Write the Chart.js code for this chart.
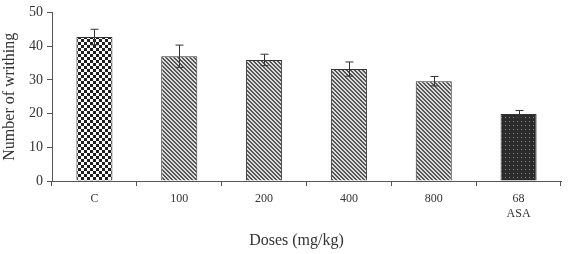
<!DOCTYPE html>
<html>
<head>
<meta charset="utf-8">
<script src="https://cdn.jsdelivr.net/npm/chart.js@4"></script>
<style>
  html, body { margin: 0; padding: 0; background: #fff; }
  #wrap { width: 568px; height: 254px; }
</style>
</head>
<body>
<div id="wrap"><canvas id="chart"></canvas></div>
<script>
const categories = ['C', '100', '200', '400', '800', ['68', 'ASA']];
const writhing = [42.7, 37.0, 35.9, 33.2, 29.6, 19.9];
const errors = [2.3, 3.3, 1.7, 2.1, 1.4, 1.0];
const yTicks = [0, 10, 20, 30, 40, 50];

function makePattern(kind) {
    const c = document.createElement('canvas');
    const ctx = c.getContext('2d');
    if (kind === 'checker') {
        c.width = 6; c.height = 6;
        ctx.fillStyle = '#fff';
        ctx.fillRect(0, 0, 6, 6);
        ctx.fillStyle = '#1e1e1e';
        ctx.fillRect(0, 0, 3, 3);
        ctx.fillRect(3, 3, 3, 3);
    } else if (kind === 'hatch') {
        c.width = 4; c.height = 4;
        ctx.fillStyle = '#dcdcdc';
        ctx.fillRect(0, 0, 4, 4);
        ctx.fillStyle = '#555';
        for (let i = 0; i < 4; i++) {
            ctx.fillRect(i, i, 1, 1);
            ctx.fillRect((i + 1) % 4, i, 1, 1);
        }
    } else {
        c.width = 4; c.height = 4;
        ctx.fillStyle = '#2b2b2b';
        ctx.fillRect(0, 0, 4, 4);
        ctx.fillStyle = '#8a8a8a';
        ctx.fillRect(1, 1, 1, 1);
    }
    return document.getElementById('chart').getContext('2d').createPattern(c, 'repeat');
}

const fills = [
    makePattern('checker'),
    makePattern('hatch'), makePattern('hatch'), makePattern('hatch'), makePattern('hatch'),
    makePattern('dots')
];

const errorBars = {
    id: 'errorBars',
    afterDatasetsDraw(chart) {
        const ctx = chart.ctx;
        const y = chart.scales.y;
        const meta = chart.getDatasetMeta(0);
        ctx.save();
        ctx.strokeStyle = '#333';
        ctx.lineWidth = 1;
        meta.data.forEach((bar, i) => {
            const x = Math.round(bar.x) + 0.5;
            const top = y.getPixelForValue(writhing[i] + errors[i]);
            const bot = y.getPixelForValue(writhing[i] - errors[i]);
            ctx.beginPath();
            ctx.moveTo(x, top); ctx.lineTo(x, bot);
            ctx.moveTo(x - 4, top); ctx.lineTo(x + 4, top);
            ctx.moveTo(x - 4, bot); ctx.lineTo(x + 4, bot);
            ctx.stroke();
        });
        ctx.restore();
    }
};

new Chart(document.getElementById('chart'), {
    type: 'bar',
    data: {
        labels: categories,
        datasets: [{
            data: writhing,
            backgroundColor: fills,
            borderColor: '#333',
            borderWidth: 1,
            categoryPercentage: 1,
            barPercentage: 0.425
        }]
    },
    options: {
        responsive: true,
        maintainAspectRatio: false,
        animation: false,
        layout: { padding: { top: 7, right: 7, left: 0, bottom: 0 } },
        plugins: { legend: { display: false }, tooltip: { enabled: false } },
        scales: {
            x: {
                afterFit: s => { s.height = 73; },
                grid: { drawOnChartArea: false, drawTicks: true, tickLength: 5, color: '#555', offset: true },
                border: { color: '#555', width: 1 },
                ticks: { color: '#333', padding: 6, font: { family: 'Liberation Serif', size: 12 } },
                // trailing spaces nudge the title left like the original
                title: { display: true, text: 'Doses (mg/kg)     ', color: '#333', padding: { top: 14 },
                    font: { family: 'Liberation Serif', size: 16 } }
            },
            y: {
                min: 0, max: 50,
                afterFit: s => { s.width = 52; },
                afterBuildTicks: s => { s.ticks = yTicks.map(v => ({ value: v })); },
                grid: { drawOnChartArea: false, drawTicks: true, tickLength: 5, color: '#555' },
                border: { color: '#555', width: 1 },
                ticks: { color: '#333', padding: 4, font: { family: 'Liberation Serif', size: 14 } },
                title: { display: true, text: 'Number of writhing', color: '#333', padding: 0,
                    font: { family: 'Liberation Serif', size: 16 } }
            }
        }
    },
    plugins: [errorBars]
});
</script>
</body>
</html>
